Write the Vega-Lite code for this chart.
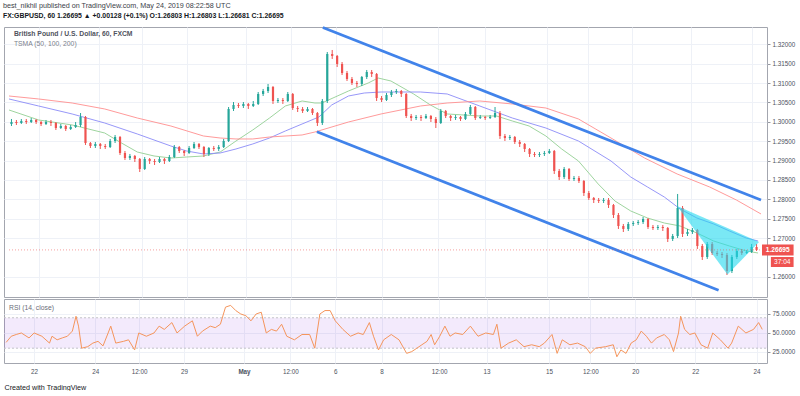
{
  "$schema": "https://vega.github.io/schema/vega-lite/v6.json",
  "background": "white",
  "padding": {"left": 3, "top": 2, "right": 0, "bottom": 0},
  "title": {
    "text": "best_nikhil published on TradingView.com, May 24, 2019 08:22:58 UTC",
    "subtitle": "FX:GBPUSD, 60  1.26695 ▲ +0.00128 (+0.1%)  O:1.26803  H:1.26803  L:1.26681  C:1.26695",
    "anchor": "start", "frame": "bounds",
    "font": "Liberation Sans", "fontSize": 7.2, "fontWeight": "normal", "color": "#3a3e48",
    "subtitleFont": "Liberation Sans", "subtitleFontSize": 6.9, "subtitleFontWeight": "bold", "subtitleColor": "#131722",
    "subtitlePadding": 3, "offset": 3
  },
  "spacing": 0,
  "datasets": {
    "candles": [
      {"t":2,"o":1.29944,"h":1.30073,"l":1.29892,"c":1.29995},
      {"t":6,"o":1.29995,"h":1.30047,"l":1.29918,"c":1.29969},
      {"t":10,"o":1.29969,"h":1.30073,"l":1.29944,"c":1.30021},
      {"t":14,"o":1.30021,"h":1.30073,"l":1.29944,"c":1.29995},
      {"t":18,"o":1.29995,"h":1.30098,"l":1.29969,"c":1.30047},
      {"t":22,"o":1.30047,"h":1.30073,"l":1.29944,"c":1.29995},
      {"t":26,"o":1.29995,"h":1.30021,"l":1.29892,"c":1.29944},
      {"t":30,"o":1.29944,"h":1.30047,"l":1.29918,"c":1.29995},
      {"t":34,"o":1.29995,"h":1.30047,"l":1.29892,"c":1.29969},
      {"t":38,"o":1.29969,"h":1.29995,"l":1.29789,"c":1.29840},
      {"t":42,"o":1.29840,"h":1.29944,"l":1.29815,"c":1.29892},
      {"t":46,"o":1.29892,"h":1.29918,"l":1.29763,"c":1.29815},
      {"t":50,"o":1.29815,"h":1.29918,"l":1.29789,"c":1.29866},
      {"t":54,"o":1.29866,"h":1.29995,"l":1.29840,"c":1.29918},
      {"t":58,"o":1.29918,"h":1.30227,"l":1.29866,"c":1.30124},
      {"t":62,"o":1.30124,"h":1.30150,"l":1.29402,"c":1.29453},
      {"t":66,"o":1.29453,"h":1.29479,"l":1.29324,"c":1.29376},
      {"t":70,"o":1.29376,"h":1.29479,"l":1.29324,"c":1.29428},
      {"t":74,"o":1.29428,"h":1.29453,"l":1.29299,"c":1.29376},
      {"t":78,"o":1.29376,"h":1.29428,"l":1.29299,"c":1.29350},
      {"t":82,"o":1.29350,"h":1.29557,"l":1.29324,"c":1.29505},
      {"t":86,"o":1.29505,"h":1.29660,"l":1.29453,"c":1.29608},
      {"t":90,"o":1.29608,"h":1.29634,"l":1.29144,"c":1.29195},
      {"t":94,"o":1.29195,"h":1.29247,"l":1.29015,"c":1.29066},
      {"t":98,"o":1.29066,"h":1.29170,"l":1.29015,"c":1.29118},
      {"t":102,"o":1.29118,"h":1.29144,"l":1.28963,"c":1.29041},
      {"t":106,"o":1.29041,"h":1.29066,"l":1.28705,"c":1.28783},
      {"t":110,"o":1.28783,"h":1.29092,"l":1.28757,"c":1.29041},
      {"t":114,"o":1.29041,"h":1.29066,"l":1.28912,"c":1.28989},
      {"t":118,"o":1.28989,"h":1.29041,"l":1.28886,"c":1.28963},
      {"t":122,"o":1.28963,"h":1.29092,"l":1.28937,"c":1.29041},
      {"t":126,"o":1.29041,"h":1.29066,"l":1.28912,"c":1.28989},
      {"t":130,"o":1.28989,"h":1.29144,"l":1.28963,"c":1.29092},
      {"t":134,"o":1.29092,"h":1.29402,"l":1.29066,"c":1.29350},
      {"t":138,"o":1.29350,"h":1.29376,"l":1.29195,"c":1.29247},
      {"t":142,"o":1.29247,"h":1.29273,"l":1.29118,"c":1.29195},
      {"t":146,"o":1.29195,"h":1.29376,"l":1.29170,"c":1.29324},
      {"t":150,"o":1.29324,"h":1.29479,"l":1.29299,"c":1.29428},
      {"t":154,"o":1.29428,"h":1.29453,"l":1.29299,"c":1.29350},
      {"t":158,"o":1.29350,"h":1.29376,"l":1.29092,"c":1.29170},
      {"t":162,"o":1.29170,"h":1.29350,"l":1.29118,"c":1.29324},
      {"t":166,"o":1.29324,"h":1.29376,"l":1.29247,"c":1.29299},
      {"t":170,"o":1.29299,"h":1.29402,"l":1.29247,"c":1.29350},
      {"t":174,"o":1.29350,"h":1.29557,"l":1.29324,"c":1.29505},
      {"t":178,"o":1.29505,"h":1.30382,"l":1.29479,"c":1.30331},
      {"t":182,"o":1.30331,"h":1.30511,"l":1.30279,"c":1.30434},
      {"t":186,"o":1.30434,"h":1.30485,"l":1.30356,"c":1.30408},
      {"t":190,"o":1.30408,"h":1.30511,"l":1.30356,"c":1.30460},
      {"t":194,"o":1.30460,"h":1.30485,"l":1.30331,"c":1.30408},
      {"t":198,"o":1.30408,"h":1.30537,"l":1.30382,"c":1.30460},
      {"t":202,"o":1.30460,"h":1.30769,"l":1.30434,"c":1.30718},
      {"t":206,"o":1.30718,"h":1.30847,"l":1.30666,"c":1.30795},
      {"t":210,"o":1.30795,"h":1.30976,"l":1.30743,"c":1.30898},
      {"t":214,"o":1.30898,"h":1.30924,"l":1.30460,"c":1.30537},
      {"t":218,"o":1.30537,"h":1.30614,"l":1.30485,"c":1.30563},
      {"t":222,"o":1.30563,"h":1.30614,"l":1.30460,"c":1.30537},
      {"t":226,"o":1.30537,"h":1.30769,"l":1.30511,"c":1.30718},
      {"t":230,"o":1.30718,"h":1.30743,"l":1.30305,"c":1.30356},
      {"t":234,"o":1.30356,"h":1.30408,"l":1.30253,"c":1.30331},
      {"t":238,"o":1.30331,"h":1.30382,"l":1.30227,"c":1.30279},
      {"t":242,"o":1.30279,"h":1.30382,"l":1.30253,"c":1.30331},
      {"t":246,"o":1.30331,"h":1.30356,"l":1.30176,"c":1.30227},
      {"t":250,"o":1.30227,"h":1.30253,"l":1.29892,"c":1.29969},
      {"t":254,"o":1.29969,"h":1.30589,"l":1.29918,"c":1.30537},
      {"t":258,"o":1.30537,"h":1.31801,"l":1.30485,"c":1.31750},
      {"t":262,"o":1.31750,"h":1.31853,"l":1.31621,"c":1.31698},
      {"t":266,"o":1.31698,"h":1.31724,"l":1.31414,"c":1.31492},
      {"t":270,"o":1.31492,"h":1.31543,"l":1.31208,"c":1.31259},
      {"t":274,"o":1.31259,"h":1.31311,"l":1.31053,"c":1.31105},
      {"t":278,"o":1.31105,"h":1.31156,"l":1.30950,"c":1.31001},
      {"t":282,"o":1.31001,"h":1.31053,"l":1.30898,"c":1.30976},
      {"t":286,"o":1.30976,"h":1.31182,"l":1.30924,"c":1.31156},
      {"t":290,"o":1.31156,"h":1.31337,"l":1.31105,"c":1.31285},
      {"t":294,"o":1.31285,"h":1.31337,"l":1.31156,"c":1.31234},
      {"t":298,"o":1.31234,"h":1.31259,"l":1.30537,"c":1.30614},
      {"t":302,"o":1.30614,"h":1.30666,"l":1.30511,"c":1.30563},
      {"t":306,"o":1.30563,"h":1.30743,"l":1.30537,"c":1.30692},
      {"t":310,"o":1.30692,"h":1.30821,"l":1.30640,"c":1.30769},
      {"t":314,"o":1.30769,"h":1.30847,"l":1.30718,"c":1.30795},
      {"t":318,"o":1.30795,"h":1.30821,"l":1.30640,"c":1.30718},
      {"t":322,"o":1.30718,"h":1.30743,"l":1.30098,"c":1.30150},
      {"t":326,"o":1.30150,"h":1.30202,"l":1.30021,"c":1.30098},
      {"t":330,"o":1.30098,"h":1.30176,"l":1.30047,"c":1.30124},
      {"t":334,"o":1.30124,"h":1.30176,"l":1.30021,"c":1.30098},
      {"t":338,"o":1.30098,"h":1.30202,"l":1.30073,"c":1.30150},
      {"t":342,"o":1.30150,"h":1.30176,"l":1.29995,"c":1.30073},
      {"t":346,"o":1.30073,"h":1.30124,"l":1.29840,"c":1.29969},
      {"t":350,"o":1.29969,"h":1.30331,"l":1.29944,"c":1.30279},
      {"t":354,"o":1.30279,"h":1.30305,"l":1.30098,"c":1.30150},
      {"t":358,"o":1.30150,"h":1.30176,"l":1.30021,"c":1.30098},
      {"t":362,"o":1.30098,"h":1.30176,"l":1.30047,"c":1.30124},
      {"t":366,"o":1.30124,"h":1.30150,"l":1.30021,"c":1.30073},
      {"t":370,"o":1.30073,"h":1.30253,"l":1.30047,"c":1.30202},
      {"t":374,"o":1.30202,"h":1.30434,"l":1.30176,"c":1.30382},
      {"t":378,"o":1.30382,"h":1.30408,"l":1.30047,"c":1.30098},
      {"t":382,"o":1.30098,"h":1.30176,"l":1.30073,"c":1.30124},
      {"t":386,"o":1.30124,"h":1.30150,"l":1.30047,"c":1.30098},
      {"t":390,"o":1.30098,"h":1.30176,"l":1.30073,"c":1.30124},
      {"t":394,"o":1.30124,"h":1.30382,"l":1.30098,"c":1.30227},
      {"t":398,"o":1.30227,"h":1.30279,"l":1.29557,"c":1.29634},
      {"t":402,"o":1.29634,"h":1.29686,"l":1.29505,"c":1.29582},
      {"t":406,"o":1.29582,"h":1.29660,"l":1.29531,"c":1.29608},
      {"t":410,"o":1.29608,"h":1.29634,"l":1.29428,"c":1.29479},
      {"t":414,"o":1.29479,"h":1.29531,"l":1.29350,"c":1.29428},
      {"t":418,"o":1.29428,"h":1.29453,"l":1.29221,"c":1.29299},
      {"t":422,"o":1.29299,"h":1.29324,"l":1.29092,"c":1.29170},
      {"t":426,"o":1.29170,"h":1.29221,"l":1.29092,"c":1.29144},
      {"t":430,"o":1.29144,"h":1.29221,"l":1.29092,"c":1.29170},
      {"t":434,"o":1.29170,"h":1.29247,"l":1.29118,"c":1.29195},
      {"t":438,"o":1.29195,"h":1.29299,"l":1.29170,"c":1.29247},
      {"t":442,"o":1.29247,"h":1.29273,"l":1.28654,"c":1.28731},
      {"t":446,"o":1.28731,"h":1.28783,"l":1.28499,"c":1.28576},
      {"t":450,"o":1.28576,"h":1.28834,"l":1.28525,"c":1.28783},
      {"t":454,"o":1.28783,"h":1.28808,"l":1.28473,"c":1.28525},
      {"t":458,"o":1.28525,"h":1.28602,"l":1.28473,"c":1.28551},
      {"t":462,"o":1.28551,"h":1.28602,"l":1.28421,"c":1.28473},
      {"t":466,"o":1.28473,"h":1.28499,"l":1.28086,"c":1.28163},
      {"t":470,"o":1.28163,"h":1.28215,"l":1.27983,"c":1.28034},
      {"t":474,"o":1.28034,"h":1.28060,"l":1.27905,"c":1.27983},
      {"t":478,"o":1.27983,"h":1.28034,"l":1.27905,"c":1.27957},
      {"t":482,"o":1.27957,"h":1.28034,"l":1.27905,"c":1.27983},
      {"t":486,"o":1.27983,"h":1.28034,"l":1.27776,"c":1.27854},
      {"t":490,"o":1.27854,"h":1.27880,"l":1.27518,"c":1.27596},
      {"t":494,"o":1.27596,"h":1.27647,"l":1.27235,"c":1.27312},
      {"t":498,"o":1.27312,"h":1.27364,"l":1.27157,"c":1.27235},
      {"t":502,"o":1.27235,"h":1.27415,"l":1.27183,"c":1.27364},
      {"t":506,"o":1.27364,"h":1.27441,"l":1.27312,"c":1.27389},
      {"t":510,"o":1.27389,"h":1.27467,"l":1.27338,"c":1.27415},
      {"t":514,"o":1.27415,"h":1.27544,"l":1.27364,"c":1.27493},
      {"t":518,"o":1.27493,"h":1.27518,"l":1.27235,"c":1.27286},
      {"t":522,"o":1.27286,"h":1.27338,"l":1.27209,"c":1.27260},
      {"t":526,"o":1.27260,"h":1.27338,"l":1.27209,"c":1.27286},
      {"t":530,"o":1.27286,"h":1.27338,"l":1.27183,"c":1.27260},
      {"t":534,"o":1.27260,"h":1.27286,"l":1.26899,"c":1.26977},
      {"t":538,"o":1.26977,"h":1.27106,"l":1.26925,"c":1.27054},
      {"t":542,"o":1.27054,"h":1.28138,"l":1.27002,"c":1.27776},
      {"t":546,"o":1.27776,"h":1.27828,"l":1.27028,"c":1.27106},
      {"t":550,"o":1.27106,"h":1.27235,"l":1.27054,"c":1.27157},
      {"t":554,"o":1.27157,"h":1.27260,"l":1.27106,"c":1.27209},
      {"t":558,"o":1.27209,"h":1.27235,"l":1.26719,"c":1.26796},
      {"t":562,"o":1.26796,"h":1.26848,"l":1.26435,"c":1.26512},
      {"t":566,"o":1.26512,"h":1.26899,"l":1.26461,"c":1.26848},
      {"t":570,"o":1.26848,"h":1.26899,"l":1.26564,"c":1.26615},
      {"t":574,"o":1.26615,"h":1.26667,"l":1.26538,"c":1.26590},
      {"t":578,"o":1.26590,"h":1.26641,"l":1.26486,"c":1.26564},
      {"t":582,"o":1.26564,"h":1.26615,"l":1.26048,"c":1.26151},
      {"t":586,"o":1.26151,"h":1.26564,"l":1.26099,"c":1.26512},
      {"t":590,"o":1.26512,"h":1.26719,"l":1.26461,"c":1.26667},
      {"t":594,"o":1.26667,"h":1.26719,"l":1.26564,"c":1.26615},
      {"t":598,"o":1.26615,"h":1.26693,"l":1.26590,"c":1.26641},
      {"t":602,"o":1.26641,"h":1.26848,"l":1.26615,"c":1.26770},
      {"t":606,"o":1.26770,"h":1.26848,"l":1.26667,"c":1.26695}
    ],
    "ma": [
      {"s":"50","t":0,"p":1.30305},{"s":"50","t":24,"p":1.30047},{"s":"50","t":51.2,"p":1.29918},{"s":"50","t":77.6,"p":1.29711},
      {"s":"50","t":91.2,"p":1.29453},{"s":"50","t":104,"p":1.29221},{"s":"50","t":117.6,"p":1.29118},{"s":"50","t":131.2,"p":1.29066},
      {"s":"50","t":144,"p":1.29092},{"s":"50","t":157.6,"p":1.29118},{"s":"50","t":171.2,"p":1.29221},{"s":"50","t":184,"p":1.29505},
      {"s":"50","t":197.6,"p":1.29789},{"s":"50","t":211.2,"p":1.30098},{"s":"50","t":224,"p":1.30408},{"s":"50","t":237.6,"p":1.30537},
      {"s":"50","t":248,"p":1.30485},{"s":"50","t":253.6,"p":1.30485},{"s":"50","t":275.2,"p":1.30795},{"s":"50","t":291.2,"p":1.31001},
      {"s":"50","t":299.2,"p":1.31130},{"s":"50","t":309.6,"p":1.31053},{"s":"50","t":328,"p":1.30718},{"s":"50","t":341.6,"p":1.30434},
      {"s":"50","t":355.2,"p":1.30202},{"s":"50","t":381.6,"p":1.30150},{"s":"50","t":395.2,"p":1.30150},{"s":"50","t":408,"p":1.30021},
      {"s":"50","t":421.6,"p":1.29892},{"s":"50","t":435.2,"p":1.29634},{"s":"50","t":448,"p":1.29299},{"s":"50","t":461.6,"p":1.28989},
      {"s":"50","t":477.6,"p":1.28396},{"s":"50","t":491.2,"p":1.27957},{"s":"50","t":504,"p":1.27699},{"s":"50","t":517.6,"p":1.27518},
      {"s":"50","t":531.2,"p":1.27389},{"s":"50","t":544,"p":1.27312},{"s":"50","t":557.6,"p":1.27131},{"s":"50","t":571.2,"p":1.26925},
      {"s":"50","t":584,"p":1.26796},{"s":"50","t":597.6,"p":1.26667},{"s":"50","t":607.2,"p":1.26615},
      {"s":"100","t":0,"p":1.30589},{"s":"100","t":24,"p":1.30408},{"s":"100","t":51.2,"p":1.30202},{"s":"100","t":77.6,"p":1.29969},
      {"s":"100","t":104,"p":1.29686},{"s":"100","t":131.2,"p":1.29376},{"s":"100","t":144,"p":1.29247},{"s":"100","t":157.6,"p":1.29170},
      {"s":"100","t":171.2,"p":1.29195},{"s":"100","t":184,"p":1.29299},{"s":"100","t":197.6,"p":1.29428},{"s":"100","t":211.2,"p":1.29582},
      {"s":"100","t":224,"p":1.29763},{"s":"100","t":237.6,"p":1.29944},{"s":"100","t":251.2,"p":1.30124},{"s":"100","t":261.6,"p":1.30434},
      {"s":"100","t":275.2,"p":1.30666},{"s":"100","t":288,"p":1.30743},{"s":"100","t":301.6,"p":1.30769},{"s":"100","t":333.6,"p":1.30769},
      {"s":"100","t":355.2,"p":1.30718},{"s":"100","t":381.6,"p":1.30408},{"s":"100","t":408,"p":1.30098},{"s":"100","t":435.2,"p":1.29840},
      {"s":"100","t":461.6,"p":1.29505},{"s":"100","t":488,"p":1.28989},{"s":"100","t":504,"p":1.28576},{"s":"100","t":517.6,"p":1.28318},
      {"s":"100","t":531.2,"p":1.28060},{"s":"100","t":544,"p":1.27751},{"s":"100","t":557.6,"p":1.27518},{"s":"100","t":571.2,"p":1.27364},
      {"s":"100","t":584,"p":1.27183},{"s":"100","t":597.6,"p":1.27002},{"s":"100","t":607.2,"p":1.26925},
      {"s":"200","t":0,"p":1.30666},{"s":"200","t":24,"p":1.30589},{"s":"200","t":51.2,"p":1.30485},{"s":"200","t":77.6,"p":1.30331},
      {"s":"200","t":104,"p":1.30098},{"s":"200","t":131.2,"p":1.29892},{"s":"200","t":157.6,"p":1.29634},{"s":"200","t":171.2,"p":1.29582},
      {"s":"200","t":184,"p":1.29557},{"s":"200","t":197.6,"p":1.29557},{"s":"200","t":211.2,"p":1.29608},{"s":"200","t":237.6,"p":1.29660},
      {"s":"200","t":248,"p":1.29737},{"s":"200","t":275.2,"p":1.29995},{"s":"200","t":301.6,"p":1.30202},{"s":"200","t":333.6,"p":1.30408},
      {"s":"200","t":355.2,"p":1.30485},{"s":"200","t":381.6,"p":1.30537},{"s":"200","t":408,"p":1.30460},{"s":"200","t":435.2,"p":1.30356},
      {"s":"200","t":461.6,"p":1.30073},{"s":"200","t":488,"p":1.29582},{"s":"200","t":515.2,"p":1.29066},{"s":"200","t":541.6,"p":1.28654},
      {"s":"200","t":568,"p":1.28318},{"s":"200","t":589.6,"p":1.27983},{"s":"200","t":609.6,"p":1.27622}
    ],
    "chan": [
      {"g":"upper","t":254.4,"p":1.32433},{"g":"upper","t":609.6,"p":1.27983},
      {"g":"lower","t":249.6,"p":1.29745},{"g":"lower","t":575.2,"p":1.25653}
    ],
    "tri": [
      {"t":541.6,"hi":1.27828,"lo":1.27828},
      {"t":582.4,"hi":1.27258,"lo":1.26061},
      {"t":608,"hi":1.26899,"lo":1.26899}
    ],
    "rsi": [
      {"t":1.7,"r":37.6},{"t":5.8,"r":45.7},{"t":9.8,"r":48},{"t":13.9,"r":50},{"t":20,"r":43.5},{"t":24.1,"r":50},{"t":30.3,"r":45.7},{"t":36.4,"r":36.7},{"t":38.4,"r":45.7},{"t":42.5,"r":41},{"t":46.6,"r":43.5},{"t":50.7,"r":45.7},{"t":54.7,"r":52.5},{"t":57.6,"r":72},{"t":59.6,"r":59},{"t":62.1,"r":30},{"t":67,"r":32},{"t":71.1,"r":36.7},{"t":75.2,"r":39},{"t":79.2,"r":33},{"t":83.3,"r":50},{"t":85.4,"r":59},{"t":89.4,"r":36.7},{"t":95.6,"r":39},{"t":99.6,"r":41},{"t":104.5,"r":27.7},{"t":107.8,"r":50},{"t":113.9,"r":45.7},{"t":120,"r":50},{"t":124.1,"r":59},{"t":128.2,"r":54.7},{"t":134.3,"r":63.7},{"t":138.4,"r":50},{"t":144.5,"r":59},{"t":150.7,"r":66},{"t":154.7,"r":45.7},{"t":158.8,"r":52.5},{"t":165,"r":59},{"t":169,"r":57},{"t":173.1,"r":61.5},{"t":177.2,"r":84},{"t":181.3,"r":86.3},{"t":185.4,"r":79.5},{"t":189.4,"r":75},{"t":193.5,"r":72.7},{"t":197.6,"r":66},{"t":201.7,"r":75},{"t":205.8,"r":77.3},{"t":209.8,"r":50},{"t":213.9,"r":54.7},{"t":218,"r":52.5},{"t":222.1,"r":61.5},{"t":226.2,"r":45.7},{"t":232.3,"r":41},{"t":238.4,"r":48},{"t":244.5,"r":48},{"t":248.6,"r":30},{"t":252.7,"r":75},{"t":256.8,"r":79.5},{"t":260.9,"r":79.5},{"t":265,"r":66},{"t":271.1,"r":54.7},{"t":277.2,"r":45.7},{"t":283.3,"r":50},{"t":287.4,"r":48},{"t":292.3,"r":63.7},{"t":295.6,"r":45.7},{"t":299.6,"r":27.7},{"t":303.7,"r":41},{"t":309.8,"r":48},{"t":316,"r":41},{"t":322.1,"r":23.2},{"t":326.2,"r":25.5},{"t":330.3,"r":30},{"t":334.3,"r":34.5},{"t":338.4,"r":39},{"t":341.7,"r":48},{"t":344.5,"r":34.5},{"t":348.6,"r":45.7},{"t":352.7,"r":59},{"t":356.8,"r":45.7},{"t":360.9,"r":50},{"t":367,"r":48},{"t":373.1,"r":59},{"t":379.2,"r":45.7},{"t":385.4,"r":50},{"t":391.5,"r":48},{"t":394.3,"r":61.5},{"t":397.6,"r":30},{"t":403.7,"r":36.7},{"t":409.8,"r":41},{"t":416,"r":32},{"t":422.1,"r":34.5},{"t":428.2,"r":32},{"t":432.3,"r":36.7},{"t":438.4,"r":48},{"t":442.5,"r":23.2},{"t":446.6,"r":41},{"t":452.7,"r":34.5},{"t":458.8,"r":36.7},{"t":465,"r":32},{"t":469,"r":23.2},{"t":473.1,"r":30},{"t":481.3,"r":32},{"t":487.4,"r":34.5},{"t":490.3,"r":18.7},{"t":493.5,"r":27.7},{"t":497.6,"r":23.2},{"t":501.7,"r":36.7},{"t":505.8,"r":41},{"t":509.8,"r":52.5},{"t":513.9,"r":45.7},{"t":518,"r":36.7},{"t":522.1,"r":43.5},{"t":528.2,"r":48},{"t":532.3,"r":41},{"t":535.6,"r":25.5},{"t":539.6,"r":50},{"t":541.3,"r":72},{"t":544.5,"r":54.7},{"t":548.6,"r":48},{"t":552.7,"r":50},{"t":557.6,"r":34.5},{"t":562.9,"r":30},{"t":567,"r":50},{"t":573.1,"r":41},{"t":579.2,"r":30},{"t":582.1,"r":36.7},{"t":587.4,"r":59},{"t":593.5,"r":50},{"t":599.6,"r":54.7},{"t":603.7,"r":63.7},{"t":606.6,"r":54.7}
    ],
    "levels": [{"lvl":30},{"lvl":70}]
  },
  "vconcat": [
    {
      "width": 763,
      "height": 270,
      "encoding": {
        "x": {"type": "quantitative", "scale": {"domain": [0, 610.4], "nice": false, "zero": false},
              "axis": {"values": [24,73,108,144,192,229,265,302,348,386,436,469,505,553,602], "labels": false, "ticks": false, "domain": false, "grid": true, "title": null}},
        "y": {"type": "quantitative", "scale": {"domain": [1.2548, 1.32446], "nice": false, "zero": false},
              "axis": {"orient": "right", "values": [1.26,1.27,1.275,1.28,1.285,1.29,1.295,1.3,1.305,1.31,1.315,1.32], "format": ".5f", "title": null, "grid": true, "domain": false, "ticks": true, "tickSize": 3, "labelPadding": 2}}
      },
      "layer": [
        {
          "data": {"name": "ma"},
          "mark": {"type": "line", "strokeWidth": 1, "opacity": 0.9},
          "encoding": {
            "x": {"field": "t"},
            "y": {"field": "p"},
            "color": {"field": "s", "type": "nominal", "scale": {"domain": ["50","100","200"], "range": ["#93cf93","#8c8cf7","#ff8f8f"]}, "legend": null},
            "detail": {"field": "s"}
          }
        },
        {
          "data": {"name": "candles"},
          "mark": {"type": "rule", "strokeWidth": 1},
          "encoding": {
            "x": {"field": "t"},
            "y": {"field": "l"},
            "y2": {"field": "h"},
            "color": {"condition": {"test": "datum.c >= datum.o", "value": "#26a69a"}, "value": "#ef5350"}
          }
        },
        {
          "data": {"name": "candles"},
          "mark": {"type": "bar", "width": 2.2},
          "encoding": {
            "x": {"field": "t"},
            "y": {"field": "o"},
            "y2": {"field": "c"},
            "color": {"condition": {"test": "datum.c >= datum.o", "value": "#26a69a"}, "value": "#ef5350"}
          }
        },
        {
          "data": {"name": "chan"},
          "mark": {"type": "line", "strokeWidth": 2.8, "color": "#4183ea"},
          "encoding": {
            "x": {"field": "t"},
            "y": {"field": "p"},
            "detail": {"field": "g"}
          }
        },
        {
          "data": {"name": "tri"},
          "mark": {"type": "area", "color": "#22d9ee", "opacity": 0.6, "line": false},
          "encoding": {
            "x": {"field": "t"},
            "y": {"field": "hi"},
            "y2": {"field": "lo"}
          }
        },
        {
          "data": {"values": [{}]},
          "mark": {"type": "rule", "color": "#ef5350", "opacity": 0.55, "strokeDash": [1, 2], "strokeWidth": 1},
          "encoding": {
            "x": {"datum": 0},
            "x2": {"datum": 610.4},
            "y": {"datum": 1.26695}
          }
        },
        {
          "data": {"values": [{}]},
          "mark": {"type": "rect", "color": "#ef5350"},
          "encoding": {
            "x": {"datum": 610.4},
            "x2": {"datum": 636},
            "y": {"datum": 1.26835},
            "y2": {"datum": 1.26551}
          }
        },
        {
          "data": {"values": [{}]},
          "mark": {"type": "rect", "color": "#ef5350"},
          "encoding": {
            "x": {"datum": 617.6},
            "x2": {"datum": 636},
            "y": {"datum": 1.26512},
            "y2": {"datum": 1.26254}
          }
        },
        {
          "data": {"values": [{}]},
          "mark": {"type": "text", "color": "white", "fontSize": 6.6, "fontWeight": "bold", "align": "center", "baseline": "middle", "font": "Liberation Sans"},
          "encoding": {
            "x": {"datum": 623.2},
            "y": {"datum": 1.26695},
            "text": {"value": "1.26695"}
          }
        },
        {
          "data": {"values": [{}]},
          "mark": {"type": "text", "color": "white", "fontSize": 6.6, "align": "center", "baseline": "middle", "font": "Liberation Sans"},
          "encoding": {
            "x": {"datum": 626.8},
            "y": {"datum": 1.26383},
            "text": {"value": "37:04"}
          }
        },
        {
          "data": {"values": [{}]},
          "mark": {"type": "text", "color": "#50535e", "fontSize": 6.8, "fontWeight": "bold", "align": "left", "baseline": "middle", "font": "Liberation Sans"},
          "encoding": {
            "x": {"datum": 4},
            "y": {"datum": 1.32266},
            "text": {"value": "British Pound / U.S. Dollar, 60, FXCM"}
          }
        },
        {
          "data": {"values": [{}]},
          "mark": {"type": "text", "color": "#7d818c", "fontSize": 6.8, "align": "left", "baseline": "middle", "font": "Liberation Sans"},
          "encoding": {
            "x": {"datum": 4},
            "y": {"datum": 1.32005},
            "text": {"value": "TSMA (50, 100, 200)"}
          }
        }
      ]
    },
    {
      "width": 763,
      "height": 64,
      "encoding": {
        "x": {"type": "quantitative", "scale": {"domain": [0, 610.4], "nice": false, "zero": false},
              "axis": {"values": [24,73,108,144,192,229,265,302,348,386,436,469,505,553,602],
                       "labelExpr": "['22','24','12:00','29','May','12:00','6','8','12:00','13','15','12:00','20','22','24'][indexof([24,73,108,144,192,229,265,302,348,386,436,469,505,553,602], datum.value)]",
                       "labelFontWeight": {"condition": {"test": "datum.value == 192", "value": "bold"}, "value": "normal"},
                       "grid": true, "ticks": false, "domain": false, "labelPadding": 5,
                       "title": "Created with TradingView", "titleAnchor": "start", "titleAlign": "left", "titleFont": "Liberation Sans", "titleFontSize": 7.2, "titleFontWeight": "normal", "titleColor": "#131722", "titlePadding": 9}},
        "y": {"type": "quantitative", "scale": {"domain": [10.5, 94.7], "nice": false, "zero": false},
              "axis": {"orient": "right", "values": [25, 50, 75], "format": ".4f", "title": null, "grid": true, "domain": false, "ticks": true, "tickSize": 3, "labelPadding": 2}}
      },
      "layer": [
        {
          "data": {"values": [{}]},
          "mark": {"type": "rect", "color": "#8e44e8", "opacity": 0.11},
          "encoding": {
            "x": {"datum": 0},
            "x2": {"datum": 610.4},
            "y": {"datum": 30},
            "y2": {"datum": 70}
          }
        },
        {
          "data": {"name": "levels"},
          "mark": {"type": "rule", "color": "#c3c3c8", "strokeDash": [2, 2], "strokeWidth": 1},
          "encoding": {
            "x": {"datum": 0},
            "x2": {"datum": 610.4},
            "y": {"field": "lvl"}
          }
        },
        {
          "data": {"name": "rsi"},
          "mark": {"type": "line", "color": "#f5955c", "strokeWidth": 1},
          "encoding": {
            "x": {"field": "t"},
            "y": {"field": "r"}
          }
        },
        {
          "data": {"values": [{}]},
          "mark": {"type": "text", "color": "#6a6d78", "fontSize": 6.8, "align": "left", "baseline": "middle", "font": "Liberation Sans"},
          "encoding": {
            "x": {"datum": 4},
            "y": {"datum": 83},
            "text": {"value": "RSI (14, close)"}
          }
        }
      ]
    }
  ],
  "config": {
    "font": "Liberation Sans",
    "view": {"stroke": "#a3a6af", "strokeWidth": 1},
    "axis": {"labelFont": "Liberation Sans", "labelFontSize": 6.3, "labelColor": "#4c525e", "gridColor": "#eef1f7", "gridWidth": 1, "tickColor": "#9598a1", "domainColor": "#9598a1"}
  }
}
